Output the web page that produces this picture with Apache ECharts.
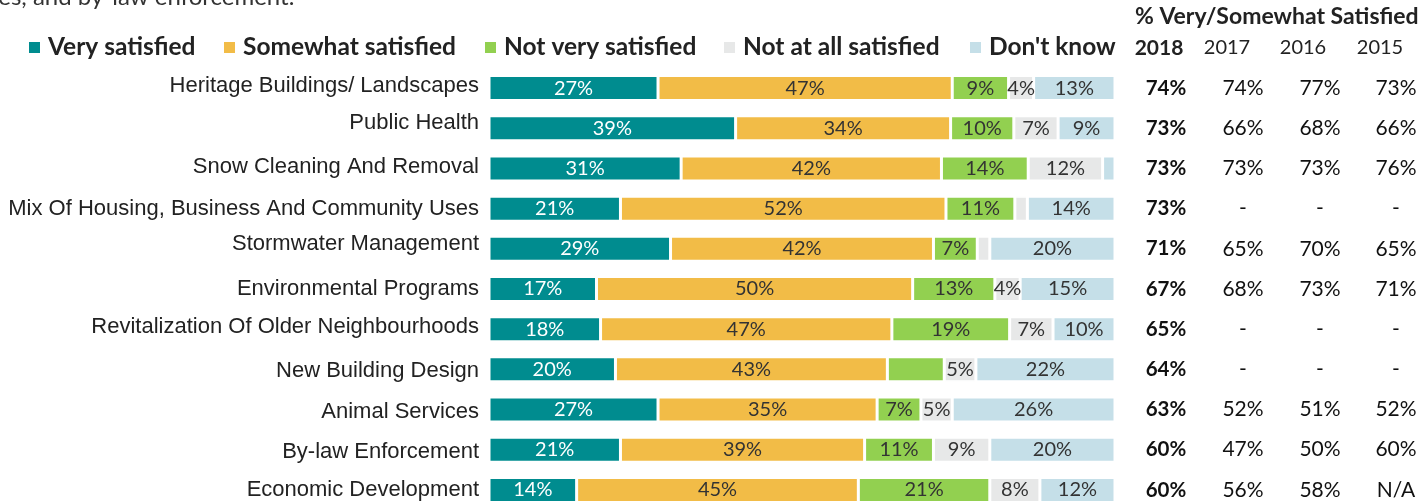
<!DOCTYPE html>
<html><head><meta charset="utf-8">
<script src="https://cdn.jsdelivr.net/npm/echarts@6/dist/echarts.min.js"></script>
<style>html,body{margin:0;padding:0;background:#fff;overflow:hidden;}#c{width:1427px;height:520px;}</style>
</head><body><div id="c"></div>
<script>
const categories = ['Heritage Buildings/ Landscapes','Public Health','Snow Cleaning And Removal','Mix Of Housing, Business And Community Uses','Stormwater Management','Environmental Programs','Revitalization Of Older Neighbourhoods','New Building Design','Animal Services','By-law Enforcement','Economic Development'];
const seriesNames = ['Very satisfied','Somewhat satisfied','Not very satisfied','Not at all satisfied',"Don't know"];
const verySatisfied = [27,39,31,21,29,17,18,20,27,21,14];
const somewhatSatisfied = [47,34,42,52,42,50,47,43,35,39,45];
const notVerySatisfied = [9,10,14,11,7,13,19,9,7,11,21];
const notAtAllSatisfied = [4,7,12,2,2,4,7,5,5,9,8];
const dontKnow = [13,9,2,14,20,15,10,22,26,20,12];
// labels not printed in the original: [seriesIndex, rowIndex]
const hiddenLabels = [[4,2],[3,3],[3,4],[2,7]];
const yearHeaders = ['2018','2017','2016','2015'];
const sat2018 = ['74%','73%','73%','73%','71%','67%','65%','64%','63%','60%','60%'];
const sat2017 = ['74%','66%','73%','-','65%','68%','-','-','52%','47%','56%'];
const sat2016 = ['77%','68%','73%','-','70%','73%','-','-','51%','50%','58%'];
const sat2015 = ['73%','66%','76%','-','65%','71%','-','-','52%','60%','N/A'];

// style: colours, text lifts of the category labels (px), layout positions
const colors = ['#008C8F','#F2BC47','#92D050','#E7E8E8','#C5DFE8'];
const labelColors = ['#ffffff','#333333','#333333','#333333','#333333'];
const catLabelLift = [4,7,4,2,7,2,4,0,0,0,2];
const legendLefts = [27,222,483,722,968];
const colCenters = [1166,1243,1320,1396];
const headerCenters = [1159,1227,1303,1380];

const allSeries = [verySatisfied,somewhatSatisfied,notVerySatisfied,notAtAllSatisfied,dontKnow];
const rowTotals = categories.map((_,i)=>allSeries.reduce((s,a)=>s+a[i],0));

const GRID_LEFT = 489, GRID_WIDTH = 626, GRID_TOP = 68, GRID_HEIGHT = 442;
const GRID_RIGHT_X = GRID_LEFT + GRID_WIDTH;
const tableCols = [sat2018,sat2017,sat2016,sat2015];

const series = allSeries.map((arr,si)=>({
  name: seriesNames[si], type:'bar', stack:'total', barWidth:25,
  itemStyle:{color:colors[si], borderColor:'#fff', borderWidth:1.5},
  label:{show:true, position:'inside', color:labelColors[si], fontFamily:'Lato', fontSize:20,
    formatter:p=>arr[p.dataIndex]+'%'},
  data: arr.map((v,ri)=>{
    const d = {value: v/rowTotals[ri]*100};
    if (hiddenLabels.some(h=>h[0]===si && h[1]===ri)) d.label={show:false};
    return d;
  })
}));

const rich = {};
catLabelLift.forEach((l,i)=>{ rich['r'+i] = {padding:[4,0,2*l,0], color:'#222', fontFamily:'Liberation Sans', fontSize:22}; });

const yAxes = [{
  type:'category', data:categories, inverse:true,
  axisLine:{show:false}, axisTick:{show:false},
  axisLabel:{margin:10, color:'#222', fontFamily:'Liberation Sans', fontSize:22,
    formatter:(v,i)=>'{r'+i+'|'+v+'}', rich:rich}
}];
tableCols.forEach((col,ci)=>{
  yAxes.push({type:'category', data:col, inverse:true, position:'right',
    offset: colCenters[ci]-GRID_RIGHT_X,
    axisLine:{show:false}, axisTick:{show:false},
    axisLabel:{margin:0, align:'center', color:'#111', fontFamily:'Lato', fontSize:ci===0?20.5:21, fontWeight: ci===0?'bold':'normal'}});
});

const graphics = [
  {type:'text', x:-13, y:-3, style:{text:'ces, and by-law enforcement.', verticalAlign:'middle', fontFamily:'Lato', fontSize:24, fill:'#333'}},
  {type:'text', x:1135, y:17, style:{text:'% Very/Somewhat Satisfied', verticalAlign:'middle', fontFamily:'Lato', fontSize:23, fontWeight:'bold', fill:'#222'}}
];
yearHeaders.forEach((y,i)=>{
  graphics.push({type:'text', x:headerCenters[i], y:48, style:{text:y, align:'center', verticalAlign:'middle', fontFamily:'Lato', fontSize:i===0?21:20, fontWeight:i===0?'bold':'normal', fill:'#222'}});
});

const legends = seriesNames.map((n,i)=>({
  left:legendLefts[i], top:35, padding:0, itemWidth:13, itemHeight:13, icon:'rect', data:[n],
  textStyle:{fontFamily:'Lato', fontSize:24.5, fontWeight:'bold', color:'#222', padding:[0,0,0,2]}
}));

const chart = echarts.init(document.getElementById('c'));
chart.setOption({
  animation:false,
  color:colors,
  legend:legends,
  grid:{left:GRID_LEFT, top:GRID_TOP, width:GRID_WIDTH, height:GRID_HEIGHT, containLabel:false},
  xAxis:{type:'value', min:0, max:100, show:false},
  yAxis:yAxes,
  series:series,
  graphic:graphics
});
</script></body></html>
